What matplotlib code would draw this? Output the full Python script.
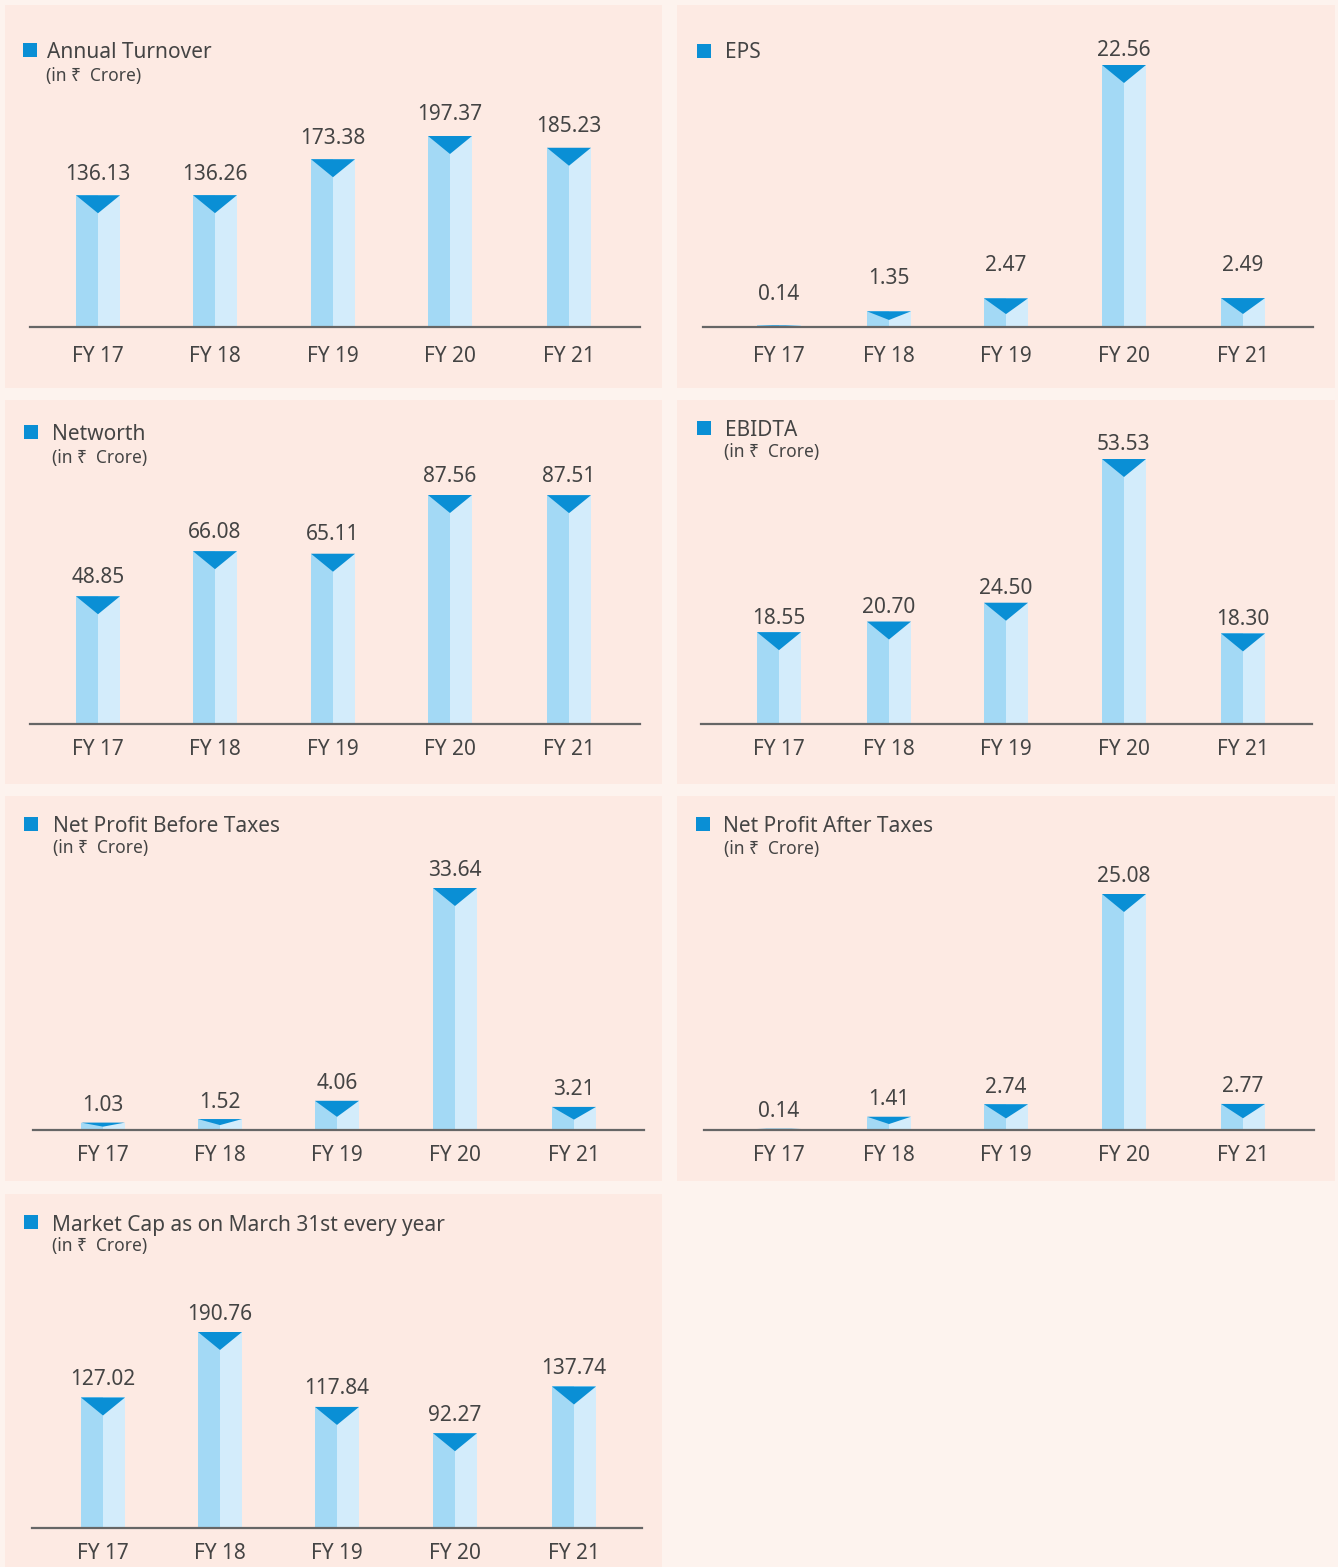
import matplotlib.pyplot as plt
from matplotlib.patches import Rectangle

plt.rcParams['font.family'] = ['Noto Sans', 'DejaVu Sans']

W, H = 1338, 1567

# --- data ---
years = ['FY 17', 'FY 18', 'FY 19', 'FY 20', 'FY 21']
turnover = [136.13, 136.26, 173.38, 197.37, 185.23]
eps = [0.14, 1.35, 2.47, 22.56, 2.49]
networth = [48.85, 66.08, 65.11, 87.56, 87.51]
ebidta = [18.55, 20.70, 24.50, 53.53, 18.30]
npbt = [1.03, 1.52, 4.06, 33.64, 3.21]
npat = [0.14, 1.41, 2.74, 25.08, 2.77]
mcap = [127.02, 190.76, 117.84, 92.27, 137.74]

unit = '(in ₹  Crore)'

FIG_BG = '#FDF3EE'
PANEL_BG = '#FDEAE3'
BAR_L = '#A3D9F5'
BAR_R = '#D3ECFB'
TRI = '#0A8FD5'
TXT = '#444444'

# bar centres (px) for each column of panels
LEFT_A = (98, 215, 333, 450, 569)
LEFT_B = (103, 220, 337, 455, 574)
RIGHT = (779, 889, 1006, 1124, 1243)

# panel layout in pixels:
# panel rect, axis x-range, bar centres, baseline, top of tallest bar,
# title pos, subtitle pos, label offset(s), tick pad
panels = [
    dict(title='Annual Turnover', sub=unit, vals=turnover,
         rect=(5, 5, 662, 388), ax=(30, 640), c=LEFT_A, base=327, top=136,
         tpos=(47, 52), spos=(46, 76), sq=(23, 43), off=21, pad=14),
    dict(title='EPS', sub=None, vals=eps,
         rect=(677, 5, 1335, 388), ax=(703, 1313), c=RIGHT, base=327, top=65,
         tpos=(725, 53), spos=None, sq=(697, 44), off=(31, 33, 33, 14, 33), pad=14),
    dict(title='Networth', sub=unit, vals=networth,
         rect=(5, 400, 662, 784), ax=(30, 640), c=LEFT_A, base=724, top=495,
         tpos=(52, 434), spos=(52, 458), sq=(24, 425), off=19, pad=11),
    dict(title='EBIDTA', sub=unit, vals=ebidta,
         rect=(677, 400, 1335, 784), ax=(701, 1312), c=RIGHT, base=724, top=459,
         tpos=(725, 430), spos=(724, 452), sq=(697, 421), off=14, pad=11),
    dict(title='Net Profit Before Taxes', sub=unit, vals=npbt,
         rect=(5, 796, 662, 1181), ax=(33, 644), c=LEFT_B, base=1130, top=888,
         tpos=(53, 826), spos=(53, 848), sq=(24, 817), off=17, pad=11),
    dict(title='Net Profit After Taxes', sub=unit, vals=npat,
         rect=(677, 796, 1335, 1181), ax=(704, 1314), c=RIGHT, base=1130, top=894,
         tpos=(723, 826), spos=(724, 849), sq=(696, 817), off=17, pad=11),
    dict(title='Market Cap as on March 31st every year', sub=unit, vals=mcap,
         rect=(5, 1194, 662, 1567), ax=(32, 642), c=LEFT_B, base=1528, top=1332,
         tpos=(52, 1226), spos=(52, 1246), sq=(24, 1215), off=18, pad=11),
]

fig = plt.figure(figsize=(W / 100, H / 100), dpi=100, facecolor=FIG_BG)


def fx(x):
    return x / W


def fy(y):
    return 1 - y / H


for p in panels:
    x0, y0, x1, y1 = p['rect']
    fig.patches.append(Rectangle((fx(x0), fy(y1)), (x1 - x0) / W, (y1 - y0) / H,
                                 transform=fig.transFigure, facecolor=PANEL_BG,
                                 edgecolor='none', zorder=-2))
    # title marker + text
    sx, sy = p['sq']
    fig.patches.append(Rectangle((fx(sx), fy(sy + 14)), 14 / W, 14 / H,
                                 transform=fig.transFigure, facecolor=TRI,
                                 edgecolor='none', zorder=-1))
    fig.text(fx(p['tpos'][0]), fy(p['tpos'][1]), p['title'], fontsize=15,
             color=TXT, va='center', ha='left')
    if p['sub']:
        fig.text(fx(p['spos'][0]), fy(p['spos'][1]), p['sub'], fontsize=12.5,
                 color=TXT, va='center', ha='left')

    vals = p['vals']
    a0, a1 = p['ax']
    cs = p['c']
    s = (cs[-1] - cs[0]) / 4  # px per category
    base = p['base']
    ax_top = y0 + 10
    ppu = (base - p['top']) / max(vals)  # px per value unit
    offs = p['off'] if isinstance(p['off'], tuple) else [p['off']] * len(vals)

    ax = fig.add_axes([fx(a0), fy(base), (a1 - a0) / W, (base - ax_top) / H])
    ax.set_facecolor('none')
    ax.set_xlim(-(cs[0] - a0) / s, (a1 - cs[0]) / s)
    ax.set_ylim(0, (base - ax_top) / ppu)

    bw = 44 / s
    xs = [(c - cs[0]) / s for c in cs]
    ax.bar([x - bw / 4 for x in xs], vals, width=bw / 2, color=BAR_L, linewidth=0)
    ax.bar([x + bw / 4 for x in xs], vals, width=bw / 2, color=BAR_R, linewidth=0)
    for x, v, o in zip(xs, vals, offs):
        d = min(18, 0.55 * v * ppu) / ppu
        ax.fill([x - bw / 2, x + bw / 2, x], [v, v, v - d], color=TRI, lw=0)
        ax.annotate(f'{v:.2f}', (x, v), xytext=(0, o), textcoords='offset pixels',
                    ha='center', va='center', fontsize=15, color=TXT)

    for side in ['left', 'right', 'top']:
        ax.spines[side].set_visible(False)
    ax.spines['bottom'].set_color('#666666')
    ax.spines['bottom'].set_linewidth(1.6)
    ax.set_yticks([])
    ax.set_xticks(xs)
    ax.set_xticklabels(years, fontsize=15, color=TXT)
    ax.tick_params(axis='x', length=0, pad=p['pad'])

fig.savefig('out.png', dpi=100, facecolor=FIG_BG)
